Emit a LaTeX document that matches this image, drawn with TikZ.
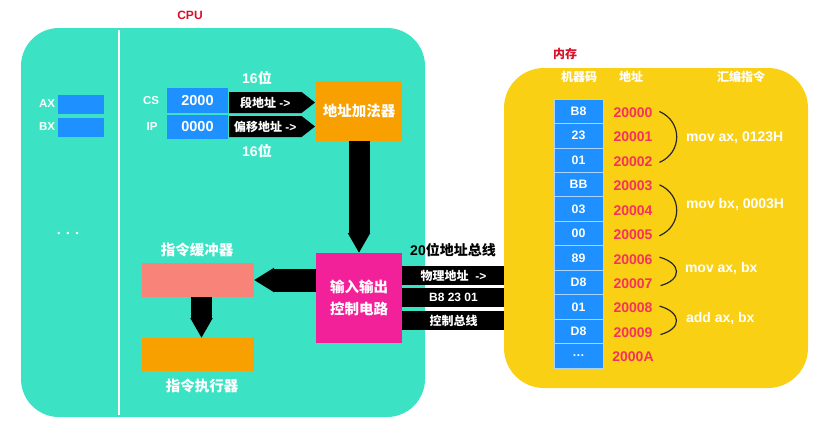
\documentclass[tikz,border=0pt]{standalone}
\usepackage{fontspec}
\setmainfont{Liberation Sans}
\newfontfamily\cjk{Noto Sans CJK SC}
\usetikzlibrary{shapes.symbols,arrows.meta,calc}
\definecolor{cputeal}{HTML}{3BE3C4}
\definecolor{regblue}{HTML}{1E90FF}
\definecolor{addorange}{HTML}{F7A000}
\definecolor{iopink}{HTML}{F2219A}
\definecolor{bufsalmon}{HTML}{F88379}
\definecolor{memyellow}{HTML}{FAD015}
\definecolor{labred}{HTML}{D8102A}
\definecolor{addrred}{HTML}{F4325E}
\definecolor{cellline}{HTML}{A8D4FF}
\newcommand\fsz[1]{\fontsize{#1}{#1}\selectfont}
\begin{document}
\begin{tikzpicture}[x=1pt,y=-1pt,
  every node/.style={inner sep=0pt, outer sep=0pt},
  wtxt/.style={text=white, font=\bfseries\fsz{#1}},
  wtxt/.default=12,
  redlbl/.style={text=labred, font=\bfseries\fsz{12}},
  reg/.style={fill=regblue, minimum width=46pt, minimum height=19pt},
  seg/.style={fill=regblue, minimum width=61pt, wtxt=14.5},
  sig/.style={signal, signal to=east, signal pointer angle=76, fill=black, wtxt=12, minimum width=86pt, minimum height=21pt},
  unit/.style={minimum width=86pt, wtxt=14.5},
  stagebox/.style={minimum width=112pt},
  fat/.style={draw=black, -{Triangle[length=20pt,width=0pt 1]}},
  busbar/.style={fill=black, minimum width=103pt, minimum height=19pt, wtxt=12},
  cell/.style={fill=regblue, draw=cellline, line width=0.8pt, minimum width=49pt, minimum height=24.45pt, wtxt=12.3},
  addr/.style={text=addrred, font=\bfseries\fsz{14}},
  brace/.style={draw=black!85, line width=1.2pt},
  instr/.style={wtxt=14, anchor=west}
]
\useasboundingbox (0,0) rectangle (815,429);
\fill[white] (0,0) rectangle (815,429);

% ---------------- CPU ----------------
\node[fill=cputeal, rounded corners=38pt, minimum width=404pt, minimum height=389pt, anchor=north west] (cpu) at (21,28) {};
\draw[white, line width=1.3pt] (119,30) -- (119,415);
\node[redlbl] (cpulbl) at (190,15) {CPU};

\node[wtxt=11.5] (axl) at (47,104) {AX};
\node[reg] (ax) at (81,104) {};
\node[wtxt=11.5] (bxl) at (47,127) {BX};
\node[reg] (bx) at (81,127) {};
\node[text=white, font=\fsz{9}] (dots) at (68,234) {\textbullet\hspace{6pt}\textbullet\hspace{6pt}\textbullet};

\node[wtxt=11.5] (csl) at (151,101) {CS};
\node[seg, minimum height=25pt] (cs) at (197.5,100.5) {2000};
\node[wtxt=11.5] (ipl) at (152,127) {IP};
\node[seg, minimum height=24pt] (ip) at (197.5,127) {0000};

\node[sig, anchor=west] (segsig) at (229,102.5) {{\cjk 段地址} ->};
\node[sig, anchor=west] (offsig) at (229,126.5) {{\cjk 偏移地址} ->};
\node[wtxt=14] (w16a) at (257,78) {16{\cjk 位}};
\node[wtxt=14] (w16b) at (257,151) {16{\cjk 位}};

\node[unit, fill=addorange, minimum height=60pt] (adder) at (359,111) {\cjk 地址加法器};
\node[unit, fill=iopink, minimum height=90pt, align=center, font=\bfseries\fontsize{14.5}{22}\selectfont] (io) at (359,298) {\cjk 输入输出\\\cjk 控制电路};

\node[stagebox, fill=bufsalmon, minimum height=34pt] (buf) at (198,280) {};
\node[wtxt=14.5] (bufl) at (197,250) {\cjk 指令缓冲器};
\node[stagebox, fill=addorange, minimum height=33pt] (exec) at (198,354.5) {};
\node[wtxt=14.5] (execl) at (202,386) {\cjk 指令执行器};

\draw[fat, line width=21pt] (adder.south) -- (io.north);
\draw[fat, line width=23pt] (io.west |- buf.east) -- (buf.east);
\draw[fat, line width=21pt] ([xshift=3.5pt]buf.south) -- ([xshift=3.5pt]exec.north);

% ---------------- bus ----------------
\node[font=\bfseries\fsz{14}] (buslbl) at (453,250) {20{\cjk 位地址总线}};
\node[busbar, anchor=west] (bus1) at (402,275.5) {{\cjk 物理地址}\ \ ->};
\node[busbar, anchor=west] (bus2) at (402,297.5) {B8 23 01};
\node[busbar, anchor=west] (bus3) at (402,320.5) {\cjk 控制总线};

% ---------------- memory ----------------
\node[fill=memyellow, rounded corners=40pt, minimum width=304pt, minimum height=320pt] (mem) at (656,228) {};
\node[redlbl] (meml) at (565,54) {\cjk 内存};
\node[wtxt=12] (h1) at (579,77) {\cjk 机器码};
\node[wtxt=12] (h2) at (631,77) {\cjk 地址};
\node[wtxt=12] (h3) at (741,77) {\cjk 汇编指令};

\foreach \t [count=\i from 0] in {B8,23,01,BB,03,00,89,D8,01,D8,\ldots}
  \node[cell] (c\i) at (578.5,{111.225+24.45*\i}) {\t};
\foreach \t [count=\i from 0] in {20000,20001,20002,20003,20004,20005,20006,20007,20008,20009,2000A}
  \node[addr] (a\i) at (633,{112.5+24.45*\i}) {\t};

\draw[brace] ($(a0.east)+(7,-1)$) .. controls +(23,10) and +(23,-10) .. ($(a2.east)+(7,1)$);
\draw[brace] ($(a3.east)+(7,-1)$) .. controls +(23,10) and +(23,-10) .. ($(a5.east)+(7,1)$);
\draw[brace] ($(a6.east)+(7,-2)$) .. controls +(22,6) and +(22,-6) .. ($(a7.east)+(8,2)$);
\draw[brace] ($(a8.east)+(7,-2)$) .. controls +(22,6) and +(22,-6) .. ($(a9.east)+(8,2)$);

\node[instr] (i1) at (686,138) {mov ax, 0123H};
\node[instr] (i2) at (686,205) {mov bx, 0003H};
\node[instr] (i3) at (685,269) {mov ax, bx};
\node[instr] (i4) at (686,319) {add ax, bx};
\end{tikzpicture}
\end{document}
